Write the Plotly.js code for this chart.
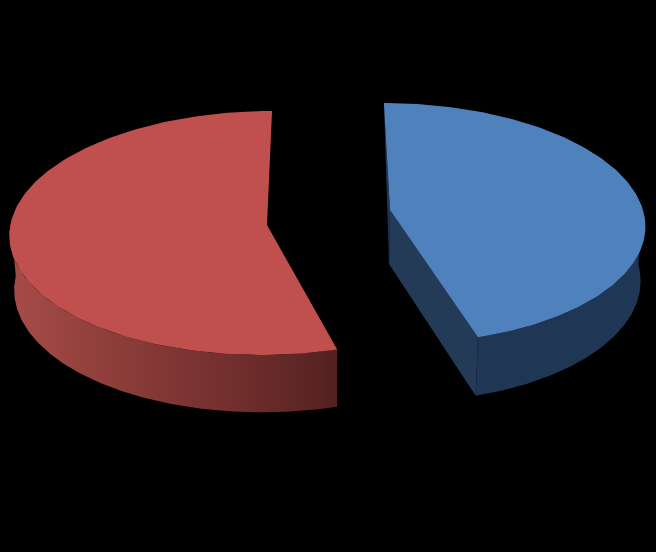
<!DOCTYPE html>
<html>
<head>
<meta charset="utf-8">
<script src="https://cdn.plot.ly/plotly-3.0.1.min.js"></script>
<style>html,body{margin:0;padding:0;background:#000}</style>
</head>
<body>
<div id="chart" style="width:656px;height:552px"></div>
<script>
// Slice shares in percent of a full turn, clockwise from the top of the pie
// (the chart has no text; the shares are the visible angles)
var sliceNames = ["Blue", "Red"];
var sliceValues = [45.4, 54.37];
var topColors = ["#4f81bd", "#bf504d"];
var cutColor = "#243b58";
var blueWall = "#1f3654";
var redWallStops = [[0, "#a64c49"], [0.35, "#8b3c39"], [0.72, "#6f2d2c"], [1, "#532120"]];

// Projection of the tilted, exploded pie
var vanishX = 328, thickness = 54, lowerScale = 0.985;
var sliceDiscs = [
  {x: 62, y: 210, apexY: 210, rx: 253, ry: 118.8, tilt: 0.11},
  {x: -61, y: 222, apexY: 225, rx: 256, ry: 121, tilt: 0.09}
];

function project(d, a, r, lower) {
  var u = Math.sin(a) * r, v = -Math.cos(a) * r, w = 1 - d.tilt * v, s = lower ? lowerScale : 1;
  var y0 = r === 0 ? d.apexY : d.y;
  return [vanishX + s * (d.x + d.rx * u) / w,
          y0 + (s * d.ry * v + (lower ? thickness : 0)) / w];
}
function arc(d, a0, a1, lower) {
  var pts = [], n = 160;
  for (var i = 0; i <= n; i++) pts.push(project(d, a0 + (a1 - a0) * i / n, 1, lower));
  return pts;
}
function poly(pts, color, gradient) {
  var t = {
    x: pts.map(function (p) { return p[0]; }), y: pts.map(function (p) { return p[1]; }),
    mode: "lines", line: {width: 0, color: color || "#000"}, fill: "toself",
    hoverinfo: "skip", showlegend: false, type: "scatter"
  };
  if (color) t.fillcolor = color;
  if (gradient) t.fillgradient = {type: "horizontal", colorscale: gradient};
  return t;
}

var full = 2 * Math.PI;
var blueEnd = full * sliceValues[0] / 100, redStart = full * (1 - sliceValues[1] / 100);
var blue = sliceDiscs[0], red = sliceDiscs[1];
var traces = [];

// Blue slice: inner sliver, cut face, outer wall, top
traces.push(poly([project(blue, 0, 1, false), project(blue, 0, 0, false), project(blue, 0, 0, true)], blueWall));
traces.push(poly([project(blue, 0, 0, false), project(blue, blueEnd, 1, false), project(blue, blueEnd, 1, true), project(blue, 0, 0, true)], cutColor));
traces.push(poly(arc(blue, Math.PI / 2, blueEnd, false).concat(arc(blue, blueEnd, Math.PI / 2, true)), blueWall));
traces.push(poly([project(blue, 0, 0, false)].concat(arc(blue, 0, blueEnd, false)), topColors[0]));

// Red slice: outer wall with horizontal shading, top
traces.push(poly(arc(red, redStart, 1.5 * Math.PI, false).concat(arc(red, 1.5 * Math.PI, redStart, true)), null, redWallStops));
traces.push(poly([project(red, 0, 0, false)].concat(arc(red, redStart, full, false)), topColors[1]));

Plotly.newPlot("chart", traces, {
  width: 656, height: 552,
  margin: {l: 0, r: 0, t: 0, b: 0},
  paper_bgcolor: "#000", plot_bgcolor: "#000",
  showlegend: false,
  xaxis: {range: [0, 656], visible: false, fixedrange: true},
  yaxis: {range: [552, 0], visible: false, fixedrange: true}
}, {displayModeBar: false, staticPlot: true});
</script>
</body>
</html>
